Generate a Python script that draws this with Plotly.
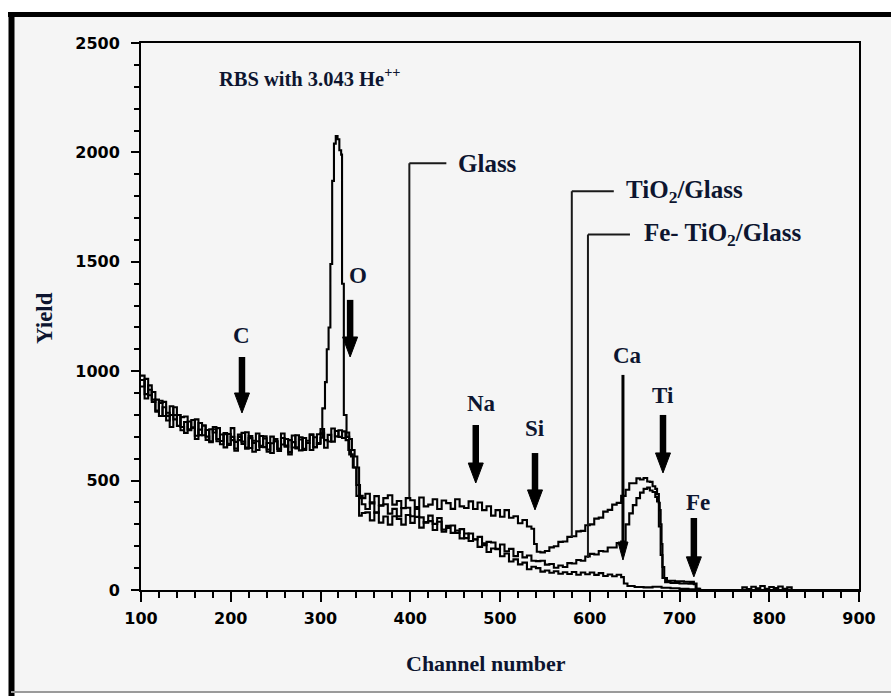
import plotly.graph_objects as go

# ---------------- data (channel, yield) ----------------
glass = [
    (100, 980), (104, 895), (108, 935), (112, 860), (116, 870), (120, 795), (124, 835), (128, 775),
    (132, 840), (136, 780), (140, 800), (144, 730), (148, 768), (152, 730), (156, 777), (160, 690),
    (164, 733), (168, 752), (172, 701), (176, 680), (180, 745), (184, 680), (188, 711), (192, 652),
    (196, 713), (200, 685), (204, 647), (208, 700), (212, 668), (216, 721), (220, 649), (224, 682),
    (228, 640), (232, 704), (236, 653), (240, 672), (244, 626), (248, 690), (252, 645), (256, 695),
    (260, 660), (264, 630), (268, 706), (272, 652), (276, 688), (280, 640), (284, 682), (288, 710),
    (292, 653), (296, 672), (300, 716), (304, 650), (308, 709), (312, 678), (316, 727), (320, 700),
    (324, 725), (328, 685),
    (331, 640), (334, 610), (337, 560), (340, 430), (343, 340), (346, 352),
    (350, 355), (355, 318), (360, 355), (365, 308), (370, 336), (375, 299), (380, 337), (385, 325),
    (390, 299), (395, 343), (400, 307), (405, 334), (410, 285), (415, 310), (420, 315), (425, 274),
    (430, 312), (435, 266), (440, 284), (445, 261), (450, 272), (455, 236), (460, 258), (465, 224),
    (470, 232), (475, 197), (480, 214), (485, 174), (490, 190), (495, 188), (500, 154), (505, 167),
    (510, 130), (515, 140), (520, 117), (525, 125), (530, 95), (535, 106), (540, 100), (545, 84),
    (550, 89), (555, 79), (560, 86), (565, 74), (570, 81), (575, 73), (580, 82), (585, 70),
    (590, 80), (595, 72), (600, 80), (605, 69), (610, 77), (615, 64), (620, 71), (625, 63),
    (630, 70), (635, 59),
    (638, 30), (642, 18), (650, 14), (660, 12), (670, 15), (680, 10), (690, 8), (700, 5),
    (710, 3), (720, 0), (765, 0), (770, 12), (775, 4), (780, 15), (785, 8), (790, 18),
    (795, 6), (800, 14), (805, 9), (810, 16), (815, 5), (820, 12), (825, 0), (900, 0),
]

fe_tio2_glass = [
    (100, 930), (104, 965), (108, 890), (112, 905), (116, 820), (120, 855), (124, 860), (128, 795),
    (132, 800), (136, 835), (140, 750), (144, 790), (148, 793), (152, 735), (156, 742), (160, 780),
    (164, 708), (168, 752), (172, 686), (176, 735), (180, 720), (184, 740), (188, 681), (192, 712),
    (196, 663), (200, 740), (204, 677), (208, 685), (212, 718), (216, 646), (220, 704), (224, 672),
    (228, 715), (232, 659), (236, 693), (240, 642), (244, 701), (248, 680), (252, 645), (256, 715),
    (260, 655), (264, 685), (268, 651), (272, 707), (276, 638), (280, 695), (284, 672), (288, 710),
    (292, 653), (296, 712), (300, 736), (304, 685), (308, 679), (312, 738), (316, 702), (320, 730),
    (324, 695), (328, 720),
    (332, 690), (335, 640), (338, 610), (341, 560), (343, 420), (346, 392),
    (350, 370), (355, 401), (360, 353), (365, 385), (370, 392), (375, 349), (380, 371), (385, 337),
    (390, 374), (395, 376), (400, 337), (405, 370), (410, 332), (415, 308), (420, 340), (425, 302),
    (430, 329), (435, 276), (440, 293), (445, 295), (450, 261), (455, 278), (460, 237), (465, 258),
    (470, 231), (475, 243), (480, 205), (485, 220), (490, 217), (495, 187), (500, 208), (505, 177),
    (510, 188), (515, 155), (520, 174), (525, 149), (530, 158), (535, 134), (540, 132), (545, 134),
    (550, 116), (555, 119), (560, 102), (565, 112), (570, 105), (575, 123), (580, 121), (585, 137),
    (590, 134), (595, 153), (600, 165), (605, 162), (610, 178), (615, 176), (620, 194), (625, 194),
    (630, 215), (635, 222),
    (640, 300), (644, 350), (648, 388), (652, 420), (656, 445), (660, 462), (664, 468), (667, 455),
    (670, 448), (673, 425), (675, 405), (677, 290), (679, 160), (681, 55), (684, 36), (690, 32),
    (700, 30), (710, 29), (716, 26), (718, 6), (722, 0), (900, 0),
]

tio2_glass = [
    (100, 960), (104, 875), (108, 915), (112, 870), (116, 815), (120, 865), (124, 795), (128, 810),
    (132, 745), (136, 800), (140, 800), (144, 745), (148, 718), (152, 770), (156, 742), (160, 705),
    (164, 763), (168, 707), (172, 731), (176, 675), (180, 735), (184, 690), (188, 666), (192, 717),
    (196, 668), (200, 700), (204, 637), (208, 710), (212, 678), (216, 651), (220, 694), (224, 632),
    (228, 680), (232, 654), (236, 703), (240, 632), (244, 671), (248, 680), (252, 635), (256, 665),
    (260, 690), (264, 620), (268, 676), (272, 647), (276, 698), (280, 645), (284, 672), (288, 640),
    (292, 698), (296, 667), (300, 696),
    (302, 830), (305, 950), (307, 1100), (309, 1200), (311, 1490), (313, 1870), (315, 2040),
    (317, 2075), (319, 2060), (321, 2010), (323, 1990), (324, 1400), (326, 800), (329, 700),
    (332, 620), (336, 560), (340, 480), (344, 430), (347, 420),
    (350, 440), (355, 395), (360, 429), (365, 387), (370, 420), (375, 433), (380, 390), (385, 407),
    (390, 375), (395, 420), (400, 410), (405, 379), (410, 423), (415, 382), (420, 390), (425, 415),
    (430, 370), (435, 409), (440, 397), (445, 371), (450, 415), (455, 382), (460, 375), (465, 405),
    (470, 370), (475, 400), (480, 365), (485, 383), (490, 340), (495, 365), (500, 335), (505, 365),
    (510, 330), (515, 337), (520, 305), (525, 320), (530, 290), (535, 280),
    (538, 210), (541, 175), (545, 172), (550, 178), (555, 195), (560, 200), (565, 220), (570, 222),
    (575, 243), (580, 246), (585, 268), (590, 270), (595, 296), (600, 300), (605, 326), (610, 331),
    (615, 358), (620, 366), (625, 390), (630, 398), (635, 430), (640, 458), (644, 488), (648, 488),
    (652, 510), (656, 505), (660, 512), (664, 496), (667, 494), (670, 474), (673, 462), (675, 438),
    (677, 398), (678, 365), (679, 300), (680, 210), (681, 105), (683, 55), (686, 42), (695, 40),
    (705, 38), (712, 37), (716, 30), (719, 5), (723, 0), (900, 0),
]

# element markers: label, channel, arrow tail yield, arrow head yield, label position
elements = ["C", "O", "Na", "Si", "Ca", "Ti", "Fe"]
element_channel = [212.5, 333, 473, 539, 637, 681.6, 716]
arrow_tail = [1065, 1326, 754, 626, 983, 800, 329]
arrow_head = [809, 1065, 489, 366, 137, 535, 60]
label_channel = [212.5, 341.8, 479.4, 539, 641.5, 681.6, 720.6]
label_yield = [1163, 1437, 852, 740, 1074, 891, 398]

# sample labels: text, channel of leader, top yield, bottom yield
samples = ["Glass", "TiO<sub>2</sub>/Glass", "Fe- TiO<sub>2</sub>/Glass"]
sample_channel = [399, 580, 598]
sample_top = [1950, 1822, 1625]
sample_bottom = [425, 242, 146]

x_ticks = [100, 200, 300, 400, 500, 600, 700, 800, 900]
y_ticks = [0, 500, 1000, 1500, 2000, 2500]

# ---------------- figure ----------------
W, H = 891, 696
L, R, T, B = 141, 32, 43, 106
PW, PH = W - L - R, H - T - B
CH_PER_PX = 800 / PW
Y_PER_PX = 2500 / PH


def pxx(p):
    return (p - L) / PW


def pxy(p):
    return (H - B - p) / PH


SERIF = "Liberation Serif"
TXT = "#0d1530"

fig = go.Figure()
for pts in (glass, fe_tio2_glass, tio2_glass):
    fig.add_trace(go.Scatter(
        x=[p[0] for p in pts], y=[p[1] for p in pts], mode="lines",
        line=dict(color="black", width=2.1, shape="hv"),
        showlegend=False, hoverinfo="skip"))

shapes = [
    dict(type="rect", xref="paper", yref="paper", x0=pxx(9), x1=pxx(893), y0=pxy(12), y1=pxy(692),
         fillcolor="#f5f5f5", line=dict(width=0), layer="below"),
    dict(type="line", xref="paper", yref="paper", x0=pxx(8), x1=pxx(893), y0=pxy(14.5), y1=pxy(14.5),
         line=dict(color="black", width=5)),
    dict(type="line", xref="paper", yref="paper", x0=pxx(11.5), x1=pxx(11.5), y0=pxy(12), y1=pxy(700),
         line=dict(color="black", width=6)),
    dict(type="line", xref="paper", yref="paper", x0=pxx(11), x1=pxx(893), y0=pxy(692), y1=pxy(692),
         line=dict(color="#9a9a9a", width=2)),
]

annotations = []
hook_px = [37, 42, 42]
gap_px = [10, 10, 12]
for txt, ch, top, bot, hl, gp in zip(samples, sample_channel, sample_top, sample_bottom, hook_px, gap_px):
    shapes.append(dict(type="line", xref="x", yref="y", x0=ch, x1=ch, y0=bot, y1=top,
                       line=dict(color="#1a1a1a", width=2)))
    shapes.append(dict(type="line", xref="x", yref="y", x0=ch, x1=ch + hl * CH_PER_PX, y0=top, y1=top,
                       line=dict(color="#1a1a1a", width=2)))
    annotations.append(dict(x=ch + (hl + gp) * CH_PER_PX, y=top, xref="x", yref="y",
                            text="<b>%s</b>" % txt, showarrow=False, xanchor="left", yanchor="middle",
                            font=dict(family=SERIF, size=25, color=TXT)))

for lab, ch, tail, head, lx, ly in zip(elements, element_channel, arrow_tail, arrow_head,
                                      label_channel, label_yield):
    thin = lab == "Ca"
    head_len = (18 if thin else 20) * Y_PER_PX
    half_w = (5 if thin else 7.5) * CH_PER_PX
    shaft_w = 3 if thin else 6.5
    shapes.append(dict(type="line", xref="x", yref="y", x0=ch, x1=ch, y0=tail, y1=head + head_len * 0.8,
                       line=dict(color="black", width=shaft_w)))
    shapes.append(dict(type="path", xref="x", yref="y",
                       path="M %f,%f L %f,%f L %f,%f Z" % (ch - half_w, head + head_len, ch + half_w,
                                                          head + head_len, ch, head),
                       fillcolor="black", line=dict(color="black", width=1)))
    annotations.append(dict(x=lx, y=ly, xref="x", yref="y", text="<b>%s</b>" % lab, showarrow=False,
                            xanchor="center", yanchor="middle",
                            font=dict(family=SERIF, size=23, color=TXT)))

annotations.append(dict(x=185, y=2345, xref="x", yref="y", text="<b>RBS with 3.043 He<sup>++</sup></b>",
                        showarrow=False, xanchor="left", yanchor="middle",
                        font=dict(family=SERIF, size=20.5, color=TXT)))
annotations.append(dict(x=pxx(44), y=pxy(318), xref="paper", yref="paper", text="<b>Yield</b>",
                        textangle=-90, showarrow=False, xanchor="center", yanchor="middle",
                        font=dict(family=SERIF, size=23, color=TXT)))
annotations.append(dict(x=pxx(486), y=pxy(663), xref="paper", yref="paper", text="<b>Channel number</b>",
                        showarrow=False, xanchor="center", yanchor="middle",
                        font=dict(family=SERIF, size=22, color=TXT)))

tickfont = dict(family="DejaVu Sans", size=16, color="black", weight="bold")

fig.update_layout(
    width=W, height=H,
    margin=dict(l=L, r=R, t=T, b=B, pad=0),
    paper_bgcolor="white", plot_bgcolor="rgba(0,0,0,0)",
    shapes=shapes, annotations=annotations, showlegend=False,
    xaxis=dict(range=[100, 900], tickvals=x_ticks, ticktext=[str(v) for v in x_ticks],
               showgrid=False, zeroline=False, showline=True, linecolor="black", linewidth=2,
               mirror=True, ticks="outside", ticklen=10, tickwidth=2, tickcolor="black",
               tickfont=tickfont, ticklabelstandoff=3,
               minor=dict(dtick=20, tick0=100, ticks="outside", ticklen=6, tickwidth=2,
                          tickcolor="black", showgrid=False)),
    yaxis=dict(range=[0, 2500], tickvals=y_ticks, ticktext=[str(v) for v in y_ticks],
               showgrid=False, zeroline=False, showline=True, linecolor="black", linewidth=2,
               mirror=True, ticks="outside", ticklen=8, tickwidth=2, tickcolor="black",
               tickfont=tickfont, ticklabelstandoff=8,
               minor=dict(dtick=100, tick0=0, ticks="outside", ticklen=5, tickwidth=2,
                          tickcolor="black", showgrid=False)),
)

fig.write_html("out.html")
